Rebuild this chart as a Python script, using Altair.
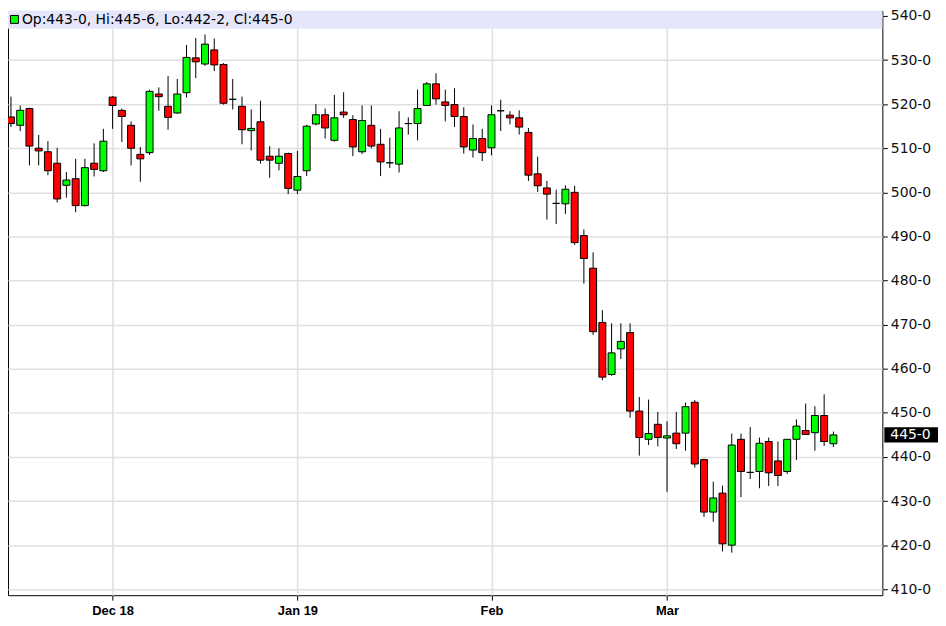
import altair as alt
import pandas as pd

# OHLC values (cents/bushel), one per trading day
opens = [517.1, 515.2, 519.0, 510.0, 509.2, 506.6, 501.6, 503.1, 497.0, 506.6,
         504.9, 521.6, 518.6, 515.2, 508.6, 509.0, 522.3, 519.5, 518.0, 522.6,
         530.5, 529.1, 532.3, 529.0, 521.1, 519.5, 514.0, 516.0, 508.2, 506.6,
         508.8, 500.5, 504.9, 515.5, 517.6, 511.8, 518.2, 516.5, 509.2, 515.2,
         510.9, 506.7, 506.4, 515.6, 515.6, 519.7, 524.6, 520.5, 519.9, 517.2,
         509.6, 512.2, 510.1, 518.5, 517.5, 516.9, 513.6, 504.2, 501.0, 497.5,
         497.4, 500.0, 490.2, 482.8, 470.5, 458.7, 464.5, 468.2, 450.4, 444.0,
         447.4, 444.3, 445.4, 445.4, 452.4, 439.4, 427.5, 431.8, 420.0, 444.0,
         436.5, 436.7, 443.5, 439.1, 436.7, 444.0, 446.0, 445.5, 449.4, 443.0]
highs = [521.7, 519.7, 519.2, 513.0, 511.6, 510.1, 504.6, 507.6, 507.6, 511.1,
         514.4, 521.8, 519.0, 516.1, 510.3, 523.3, 523.8, 526.4, 525.7, 533.4,
         535.0, 535.8, 534.9, 529.3, 525.7, 521.7, 518.8, 520.8, 510.5, 510.0,
         509.0, 509.4, 515.3, 520.0, 519.0, 522.1, 522.7, 517.5, 519.7, 519.7,
         514.4, 512.4, 518.4, 517.0, 523.3, 525.0, 527.0, 523.3, 523.6, 519.3,
         515.4, 514.4, 519.7, 521.0, 518.4, 518.6, 514.6, 508.1, 502.6, 500.6,
         501.6, 501.5, 491.6, 486.4, 473.3, 470.3, 470.3, 470.3, 453.6, 453.0,
         450.2, 448.1, 450.2, 452.3, 452.9, 439.6, 434.4, 433.5, 445.3, 445.3,
         446.8, 444.4, 444.4, 443.5, 444.0, 448.5, 452.1, 451.5, 454.2, 445.75]
lows = [514.8, 513.9, 506.1, 506.1, 503.9, 497.7, 498.8, 495.5, 496.8, 503.6,
        504.6, 514.4, 511.4, 506.1, 502.4, 508.5, 518.5, 514.2, 517.8, 521.5,
        525.9, 528.7, 527.5, 519.9, 518.8, 510.9, 509.5, 506.5, 503.3, 505.0,
        499.6, 499.6, 503.7, 515.2, 512.2, 511.5, 516.9, 508.2, 508.7, 510.0,
        503.7, 505.5, 504.5, 513.1, 511.8, 519.6, 519.9, 516.1, 514.8, 508.8,
        507.9, 507.1, 508.4, 513.9, 515.4, 513.1, 502.6, 500.1, 493.8, 492.8,
        495.1, 488.1, 479.3, 467.7, 457.4, 458.4, 462.2, 448.9, 440.3, 442.7,
        442.4, 432.1, 441.8, 441.4, 437.6, 426.4, 425.3, 418.6, 418.3, 430.9,
        435.0, 432.9, 433.4, 433.4, 436.1, 439.3, 445.1, 441.4, 442.5, 442.25]
closes = [515.6, 518.6, 510.5, 509.4, 504.9, 498.5, 502.8, 497.0, 505.6, 505.2,
          511.6, 519.7, 517.2, 510.0, 507.6, 522.9, 521.7, 517.0, 522.3, 530.6,
          529.6, 533.6, 528.9, 520.2, 521.1, 514.2, 514.5, 507.3, 507.3, 508.2,
          500.9, 503.6, 515.0, 517.6, 514.6, 516.9, 517.6, 510.3, 516.3, 510.5,
          506.9, 506.7, 514.6, 515.6, 519.0, 524.6, 521.2, 519.7, 517.2, 510.3,
          512.2, 509.0, 517.6, 518.5, 516.9, 514.8, 503.9, 501.5, 499.6, 497.5,
          500.7, 488.6, 485.0, 468.4, 458.1, 463.6, 466.2, 450.4, 444.4, 445.3,
          444.4, 444.8, 443.0, 451.4, 438.4, 427.5, 430.7, 420.3, 442.7, 436.7,
          436.5, 443.1, 436.4, 435.8, 444.0, 447.0, 445.1, 449.4, 443.5, 445.0]

# month ticks (index of the first trading day of each month) and their labels
tick_idx = [11, 31, 52, 71]
tick_labels = ["Dec 18", "Jan 19", "Feb", "Mar"]
y_ticks = list(range(410, 541, 10))

UP = "#00ff00"
DOWN = "#ff0000"


def frac(v):
    whole = int(v)
    eighths = int(round((v - whole) * 8))
    return f"{whole}-{eighths}"


df = pd.DataFrame({"i": list(range(len(opens))), "o": opens, "h": highs,
                   "l": lows, "c": closes})
df["dir"] = ["up" if c >= o else "down" for o, c in zip(opens, closes)]

last = df.iloc[[-1]].copy()
last["legend"] = (f"Op:{frac(opens[-1])}, Hi:{frac(highs[-1])}, "
                  f"Lo:{frac(lows[-1])}, Cl:{frac(closes[-1])}")
last["price"] = frac(closes[-1])
last["top"] = last["c"] + 1.75
last["bot"] = last["c"] - 1.75

label_expr = " : ".join(f"datum.value == {v} ? '{t}'" for v, t in zip(tick_idx, tick_labels)) + " : ''"

xscale = alt.Scale(domain=[-0.32, 94.3], nice=False, zero=False, padding=0)
yscale = alt.Scale(domain=[408.65, 541.13], nice=False, zero=False, padding=0)

x_axis = alt.Axis(values=tick_idx, labelExpr=label_expr, title=None, grid=True,
                  domain=False, ticks=True, tickSize=5, tickColor="black",
                  labelFont="Liberation Sans", labelFontWeight="bold",
                  labelFontSize=13, labelColor="black", labelPadding=4)
y_axis = alt.Axis(orient="right", values=y_ticks, labelExpr="datum.value + '-0'",
                  title=None, grid=True, domain=False, ticks=True, tickSize=5,
                  tickColor="black", labelFont="DejaVu Sans", labelFontSize=14,
                  labelColor="#111111", labelPadding=3)

X = alt.X("i:Q", scale=xscale, axis=x_axis)

wicks = alt.Chart(df).mark_rule(color="black", strokeWidth=1).encode(
    x=X,
    y=alt.Y("l:Q", scale=yscale, axis=y_axis),
    y2="h:Q",
)

bodies = alt.Chart(df).mark_bar(size=7, stroke="black", strokeWidth=1).encode(
    x=X,
    y=alt.Y("o:Q", scale=yscale, axis=y_axis),
    y2="c:Q",
    color=alt.Color("dir:N", scale=alt.Scale(domain=["up", "down"], range=[UP, DOWN]),
                    legend=None),
)

band = alt.Chart(last).mark_rect(color="#e6e6fa").encode(
    x=alt.value(0), x2=alt.value(880), y=alt.value(0), y2=alt.value(18)
)

legend_box = alt.Chart(last).mark_rect(stroke="black", strokeWidth=1).encode(
    x=alt.value(2.5), x2=alt.value(10.5), y=alt.value(4.5), y2=alt.value(12.5),
    color=alt.Color("dir:N", scale=alt.Scale(domain=["up", "down"], range=[UP, DOWN]),
                    legend=None),
)

legend_text = alt.Chart(last).mark_text(
    align="left", baseline="middle", font="DejaVu Sans", fontSize=14, color="black"
).encode(x=alt.value(14), y=alt.value(9), text="legend:N")

price_box = alt.Chart(last).mark_rect(color="black").encode(
    x=alt.value(882), x2=alt.value(936),
    y=alt.Y("top:Q", scale=yscale, axis=y_axis), y2="bot:Q",
)

price_text = alt.Chart(last).mark_text(
    align="left", baseline="middle", font="DejaVu Sans", fontSize=14, color="white"
).encode(x=alt.value(888), y=alt.Y("c:Q", scale=yscale, axis=y_axis), text="price:N")

chart = alt.layer(wicks, bodies, band, legend_box, legend_text, price_box, price_text).properties(
    width=880, height=588,
    autosize=alt.AutoSizeParams(type="none"),
    padding={"left": 0, "top": 1, "right": 56, "bottom": 28},
    background="white",
).configure_view(stroke="black", strokeWidth=1).configure_axis(
    gridColor="#e0e0e0", gridWidth=1.5
)

chart.save("out.html", embed_options={"renderer": "svg", "actions": False})
